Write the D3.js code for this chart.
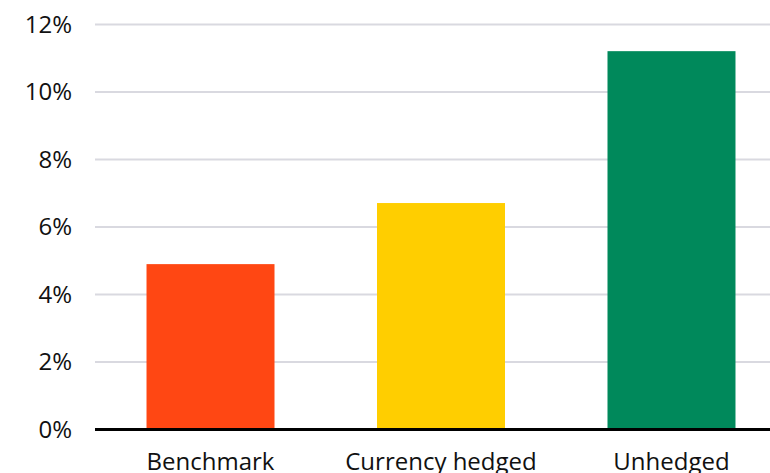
<!DOCTYPE html>
<html>
<head>
<meta charset="utf-8">
<script src="https://cdn.jsdelivr.net/npm/d3@7"></script>
<style>
  html, body { margin: 0; padding: 0; background: #ffffff; }
  svg { display: block; }
  text { font-family: "Open Sans", "DejaVu Sans", sans-serif; fill: #111111; }
</style>
</head>
<body>
<div id="chart"></div>
<script>
// Annualised return by hedging approach
const categories = ["Benchmark", "Currency hedged", "Unhedged"];
const values = [4.9, 6.71, 11.21];
const colors = ["#ff4713", "#ffce00", "#00895b"];
const yTicks = [0, 2, 4, 6, 8, 10, 12];
const yTickLabels = ["0%", "2%", "4%", "6%", "8%", "10%", "12%"];

const width = 770, height = 473;
const margin = { top: 24.5, left: 95, bottom: 43.5 };
const bandWidth = 692;   // band layout extends past the right edge
const innerH = height - margin.top - margin.bottom;

const svg = d3.select("#chart").append("svg")
  .attr("width", width)
  .attr("height", height);

const g = svg.append("g").attr("transform", `translate(${margin.left},${margin.top})`);

const x = d3.scaleBand()
  .domain(categories)
  .range([0, bandWidth])
  .paddingInner(0.4447)
  .paddingOuter(0.2235);

const y = d3.scaleLinear()
  .domain([0, 12])
  .range([innerH, 0]);

// gridlines
g.append("g")
  .selectAll("line")
  .data(yTicks.filter(d => d !== 0))
  .join("line")
  .attr("x1", 0)
  .attr("x2", width - margin.left)
  .attr("y1", d => y(d))
  .attr("y2", d => y(d))
  .attr("stroke", "#d9d9e0")
  .attr("stroke-width", 2);

// y tick labels
g.append("g")
  .selectAll("text")
  .data(yTicks)
  .join("text")
  .attr("x", -23)
  .attr("y", d => y(d))
  .attr("dy", "0.35em")
  .attr("text-anchor", "end")
  .style("font-size", "24px")
  .text((d, i) => yTickLabels[i]);

// bars
g.append("g")
  .selectAll("rect")
  .data(values)
  .join("rect")
  .attr("x", (d, i) => x(categories[i]))
  .attr("width", x.bandwidth())
  .attr("y", d => y(d))
  .attr("height", d => y(0) - y(d))
  .attr("fill", (d, i) => colors[i]);

// baseline
g.append("line")
  .attr("x1", 0)
  .attr("x2", width - margin.left)
  .attr("y1", y(0))
  .attr("y2", y(0))
  .attr("stroke", "#000000")
  .attr("stroke-width", 3);

// category labels
g.append("g")
  .selectAll("text")
  .data(categories)
  .join("text")
  .attr("x", d => x(d) + x.bandwidth() / 2)
  .attr("y", y(0) + 40)
  .attr("text-anchor", "middle")
  .style("font-size", "24px")
  .text(d => d);
</script>
</body>
</html>
